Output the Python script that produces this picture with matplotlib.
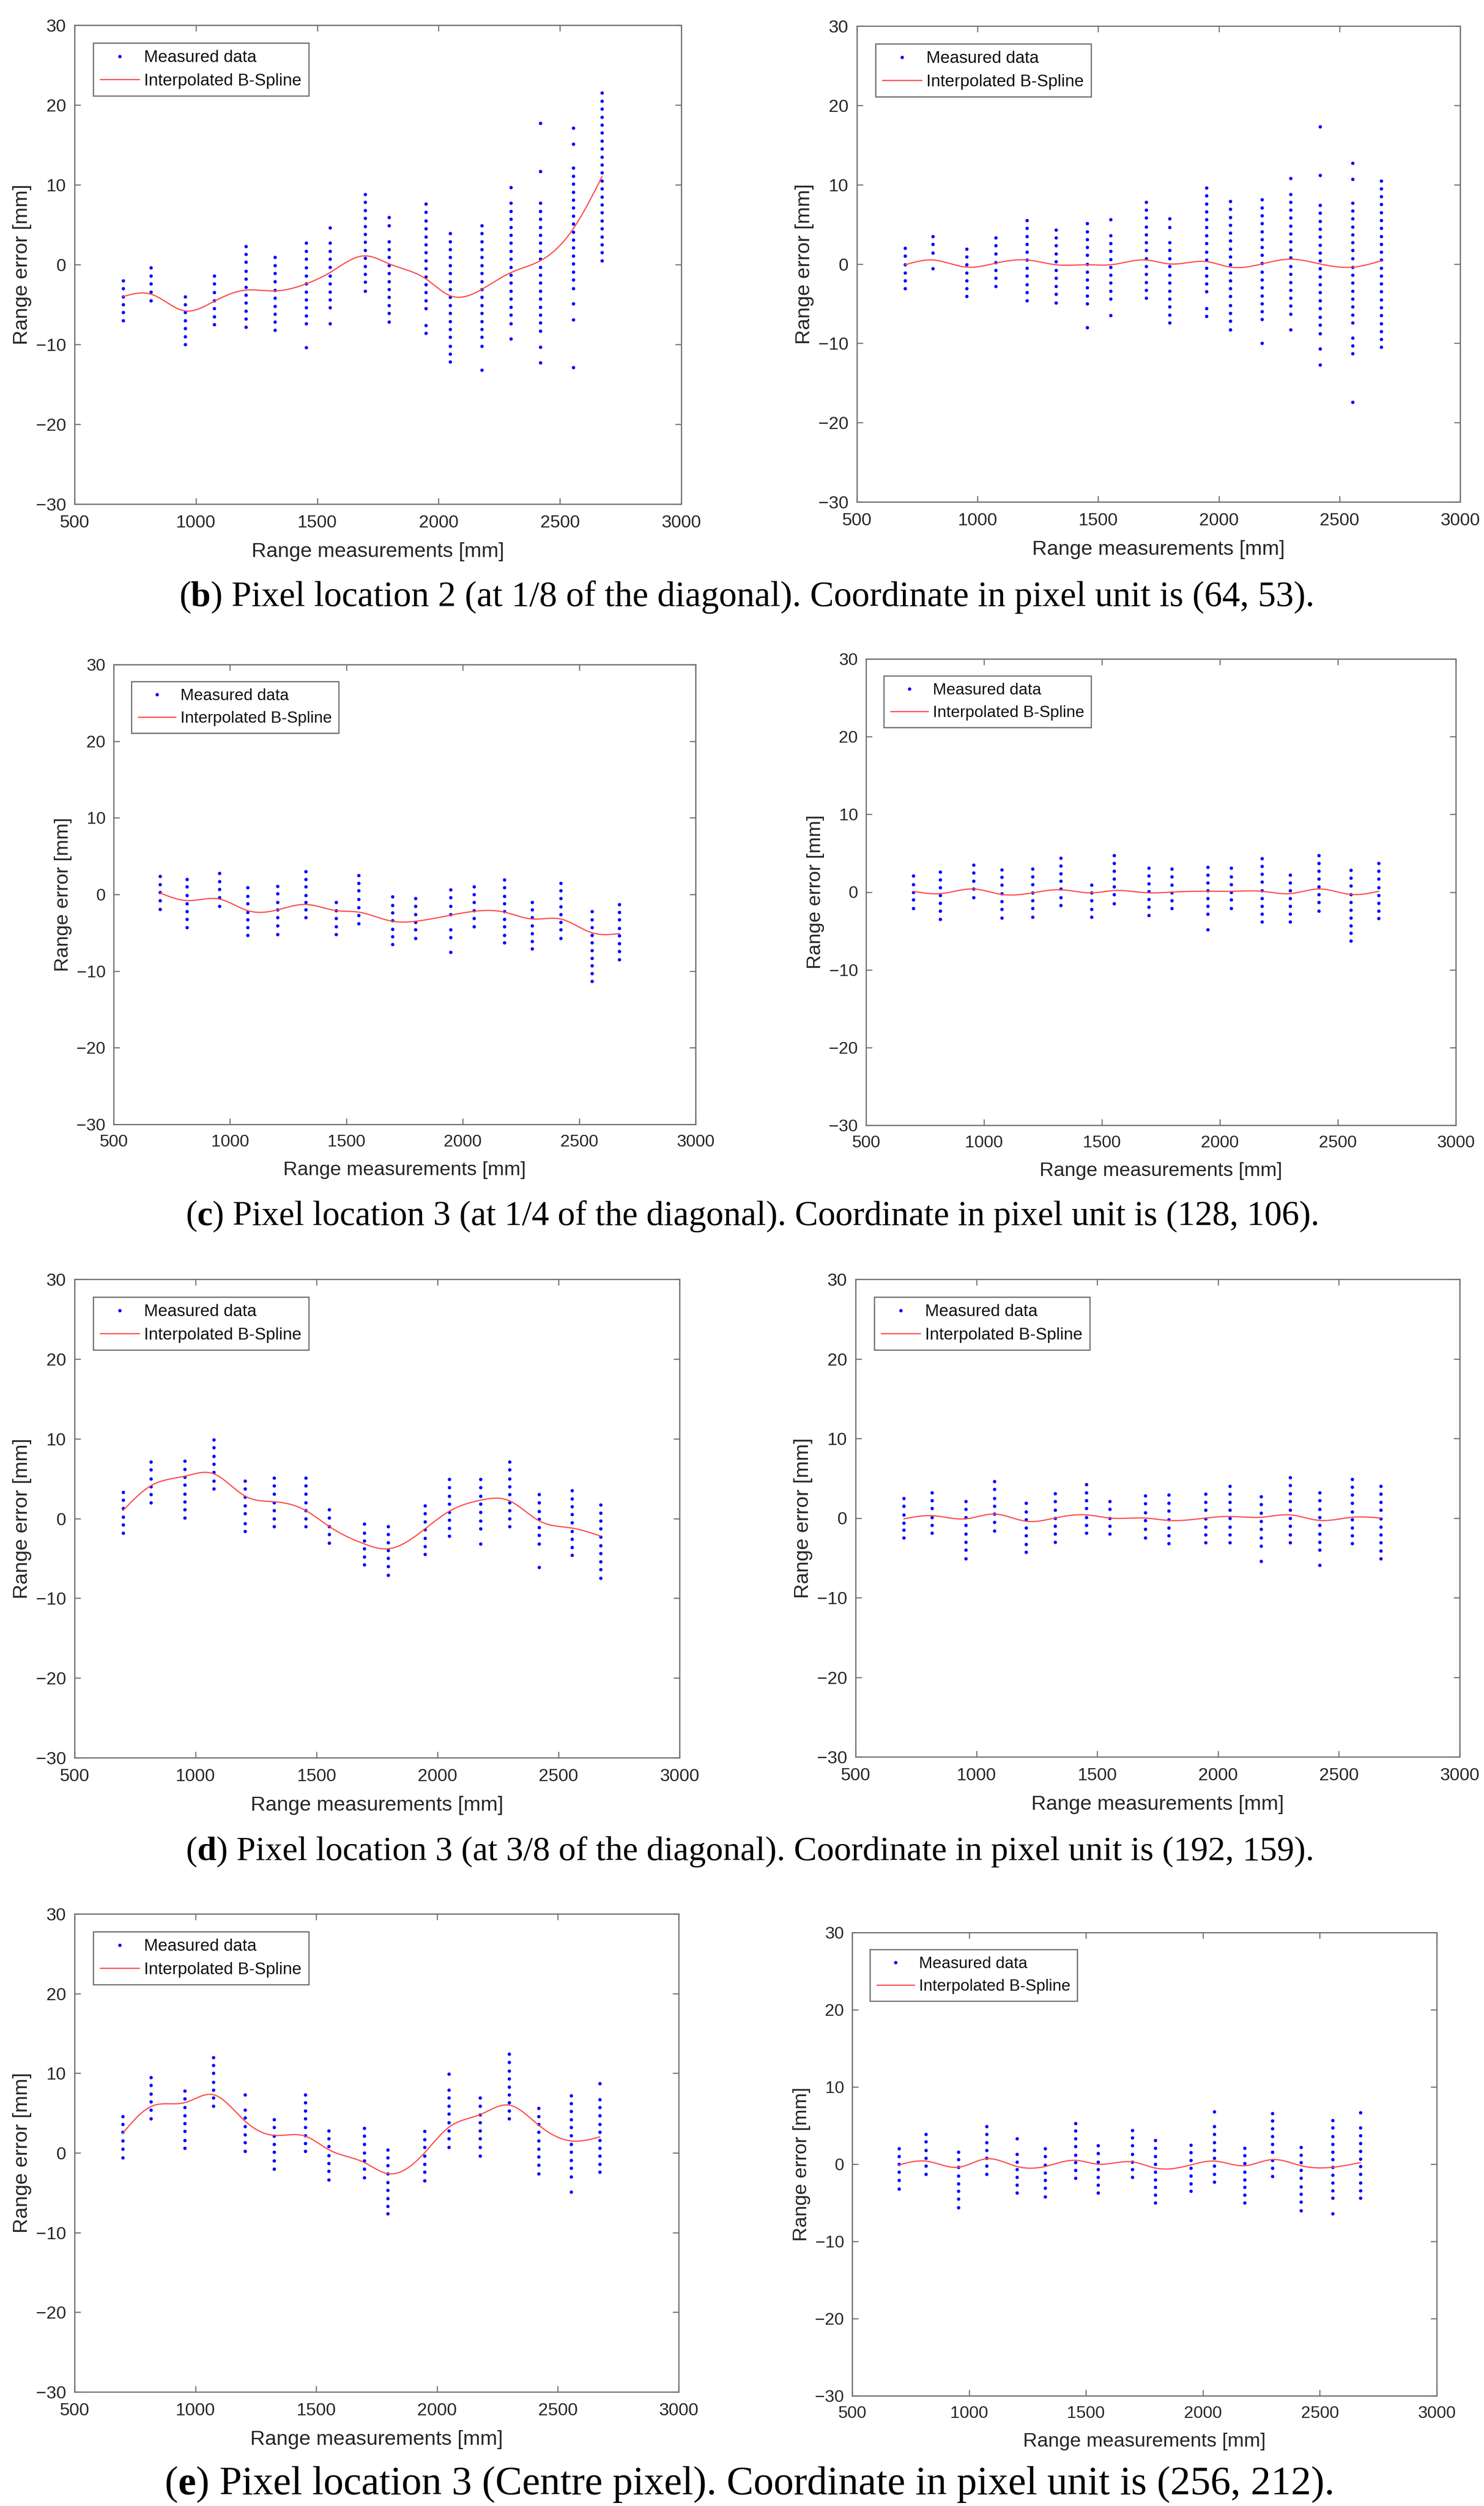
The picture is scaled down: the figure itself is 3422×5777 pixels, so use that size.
import numpy as np
import matplotlib
matplotlib.use("Agg")
import matplotlib.pyplot as plt

# ---------------- data ----------------
RANGE_MM = [700, 815, 955, 1075, 1205, 1325, 1455, 1552, 1698, 1796, 1948, 2048, 2178, 2298, 2420, 2555, 2673]

B_LEFT_ERR = [
    [-2, -3, -4, -5, -6, -7],
    [-0.4, -1.4, -2.4, -3.4, -4.5],
    [-4, -5, -6, -7, -8, -9, -10],
    [-1.4, -2.4, -3.5, -4.5, -5.5, -6.5, -7.5],
    [2.3, 1.3, 0.3, -0.8, -1.8, -2.8, -3.8, -4.8, -5.8, -6.8, -7.8],
    [0.9, -0.1, -1.1, -2.1, -3.2, -4.2, -5.2, -6.2, -7.2, -8.2],
    [2.7, 1.7, 0.7, -0.4, -1.4, -2.4, -3.4, -4.4, -5.4, -6.4, -7.4, -10.4],
    [4.6, 2.7, 1.7, 0.7, -0.3, -1.4, -2.4, -3.4, -4.4, -5.4, -7.4],
    [8.8, 7.8, 6.8, 5.8, 4.8, 3.8, 2.8, 1.8, 0.8, -0.2, -1.2, -2.2, -3.3],
    [5.9, 4.9, 2.9, 1.9, 0.9, -0.1, -1.1, -2.1, -3.1, -4.1, -5.1, -6.1, -7.2],
    [7.6, 6.6, 5.5, 4.5, 3.5, 2.5, 1.5, 0.5, -0.5, -1.5, -2.5, -3.5, -4.5, -5.5, -7.6, -8.6],
    [3.9, 2.9, 1.9, 0.9, -0.1, -1.1, -2.1, -3.1, -4.1, -5.1, -6.1, -7.1, -8.1, -9.1, -10.2, -11.2, -12.2],
    [4.9, 3.9, 2.9, 1.9, 0.9, -0.1, -1.1, -2.1, -3.1, -4.1, -5.1, -6.1, -7.1, -8.1, -9.1, -10.2, -13.2],
    [9.7, 7.7, 6.7, 5.7, 4.7, 3.7, 2.7, 1.7, 0.7, -0.3, -1.3, -2.3, -3.3, -4.3, -5.3, -6.3, -7.4, -9.3],
    [17.7, 11.7, 7.7, 6.7, 5.7, 4.7, 3.7, 2.7, 1.7, 0.7, -0.3, -1.3, -2.3, -3.3, -4.3, -5.3, -6.3, -7.3, -8.3, -10.3, -12.3],
    [17.1, 15.1, 12.1, 11.1, 10.1, 9.1, 8.1, 7.1, 6.1, 5.1, 4.1, 3.1, 2.1, 1.1, 0.1, -0.9, -1.9, -3.0, -4.9, -6.9, -12.9],
    [21.5, 20.5, 19.5, 18.5, 17.5, 16.5, 15.5, 14.5, 13.5, 12.5, 11.5, 10.5, 9.5, 8.5, 7.5, 6.5, 5.5, 4.5, 3.5, 2.5, 1.5, 0.5],
]
B_LEFT_SPLINE = [-4.0, -3.7, -5.8, -4.6, -3.2, -3.3, -2.4, -1.0, 1.1, 0.1, -1.8, -3.9, -3.1, -1.0, 0.5, 4.5, 11.0]

B_RIGHT_ERR = [
    [2.0, 1.0, -0.1, -1.1, -2.1, -3.1],
    [3.5, 2.5, 1.4, -0.6],
    [1.9, 0.9, -0.1, -1.1, -2.1, -3.1, -4.1],
    [3.3, 2.3, 1.3, 0.2, -0.8, -1.8, -2.8],
    [5.5, 4.5, 3.5, 2.5, 1.5, 0.5, -0.5, -1.5, -2.6, -3.6, -4.6],
    [4.3, 3.3, 2.3, 1.3, 0.3, -0.8, -1.8, -2.8, -3.8, -4.9],
    [5.1, 4.1, 3.1, 2.1, 1.1, 0.0, -1.0, -2.0, -3.0, -4.0, -5.0, -8.0],
    [5.6, 3.6, 2.6, 1.6, 0.6, -0.4, -1.4, -2.4, -3.4, -4.4, -6.5],
    [7.8, 6.8, 5.8, 4.7, 3.7, 2.7, 1.7, 0.7, -0.3, -1.3, -2.3, -3.3, -4.3],
    [5.7, 4.6, 2.7, 1.7, 0.7, -0.3, -1.4, -2.4, -3.4, -4.4, -5.4, -6.4, -7.4],
    [9.6, 8.6, 7.6, 6.6, 5.6, 4.6, 3.6, 2.6, 1.5, 0.5, -0.5, -1.5, -2.5, -3.5, -5.6, -6.6],
    [7.9, 6.9, 5.9, 4.9, 3.9, 2.9, 1.9, 0.9, -0.1, -1.1, -2.1, -3.1, -4.1, -5.2, -6.2, -7.2, -8.3],
    [8.1, 7.1, 6.1, 5.1, 4.1, 3.1, 2.1, 1.1, 0.1, -1.0, -2.0, -3.0, -4.0, -5.0, -6.0, -7.0, -10.0],
    [10.8, 8.8, 7.8, 6.8, 5.8, 4.8, 3.8, 2.8, 1.8, 0.8, -0.3, -1.3, -2.3, -3.3, -4.3, -5.3, -6.3, -8.3],
    [17.3, 11.2, 7.4, 6.4, 5.4, 4.4, 3.4, 2.4, 1.4, 0.4, -0.6, -1.6, -2.6, -3.6, -4.6, -5.6, -6.7, -7.7, -8.8, -10.7, -12.7],
    [12.7, 10.7, 7.7, 6.7, 5.7, 4.7, 3.7, 2.7, 1.7, 0.7, -0.4, -1.4, -2.4, -3.4, -4.4, -5.4, -6.4, -7.4, -9.3, -10.3, -11.3, -17.4],
    [10.5, 9.5, 8.5, 7.5, 6.5, 5.5, 4.5, 3.5, 2.5, 1.5, 0.5, -0.5, -1.5, -2.5, -3.5, -4.5, -5.5, -6.5, -7.5, -8.5, -9.5, -10.5],
]
B_RIGHT_SPLINE = [-0.1, 0.5, -0.4, 0.1, 0.5, -0.1, -0.1, -0.1, 0.5, 0.0, 0.3, -0.4, 0.0, 0.6, 0.0, -0.4, 0.4]

C_LEFT_ERR = [
    [2.4, 1.3, 0.3, -0.8, -1.9],
    [2.0, 1.0, -0.1, -1.2, -2.2, -3.2, -4.3],
    [2.8, 1.7, 0.7, -0.4, -1.5],
    [0.9, -0.2, -1.2, -2.3, -3.3, -4.3, -5.3],
    [1.1, 0.1, -1.0, -2.0, -3.0, -4.1, -5.2],
    [3.0, 2.0, 1.0, -0.1, -1.0, -2.0, -3.0],
    [-1.0, -2.1, -3.1, -4.2, -5.2],
    [2.5, 1.5, 0.5, -0.6, -1.7, -2.7, -3.8],
    [-0.3, -1.4, -2.4, -3.4, -4.5, -5.5, -6.5],
    [-0.5, -1.5, -2.6, -3.6, -4.6, -5.7],
    [0.6, -0.4, -1.5, -2.6, -4.6, -5.6, -7.5],
    [1.0, 0.0, -1.0, -2.1, -3.1, -4.2],
    [1.9, 0.9, -0.2, -1.2, -2.2, -3.2, -4.2, -5.3, -6.3],
    [-1.0, -2.0, -3.0, -4.1, -5.1, -6.1, -7.1],
    [1.5, 0.5, -0.5, -1.6, -2.6, -3.6, -4.6, -5.7],
    [-2.2, -3.3, -4.3, -5.3, -6.3, -7.3, -8.3, -9.3, -10.3, -11.3],
    [-1.3, -2.3, -3.3, -4.4, -5.4, -6.4, -7.4, -8.5],
]
C_LEFT_SPLINE = [0.2, -0.8, -0.6, -2.1, -2.0, -1.3, -2.1, -2.3, -3.5, -3.5, -2.7, -2.2, -2.3, -3.2, -3.2, -5.0, -5.1]

C_RIGHT_ERR = [
    [2.1, 1.0, 0.0, -1.0, -2.1],
    [2.6, 1.6, 0.6, -0.4, -1.4, -2.4, -3.5],
    [3.5, 2.5, 1.4, 0.4, -0.7],
    [2.9, 1.9, 0.9, -0.2, -1.2, -2.2, -3.3],
    [3.0, 2.0, 1.0, -0.1, -1.1, -2.1, -3.2],
    [4.4, 3.4, 2.4, 1.4, 0.4, -0.7, -1.7],
    [0.9, -0.1, -1.1, -2.2, -3.2],
    [4.7, 3.7, 2.7, 1.7, 0.7, -0.3, -1.5],
    [3.1, 2.1, 1.1, 0.1, -0.9, -1.9, -3.0],
    [3.0, 2.0, 0.9, -0.1, -1.1, -2.1],
    [3.2, 2.2, 1.2, 0.2, -0.8, -1.8, -2.8, -4.8],
    [3.1, 2.0, 1.0, 0.0, -1.0, -2.1],
    [4.3, 3.3, 2.3, 1.3, 0.2, -0.8, -1.8, -2.8, -3.8],
    [2.2, 1.2, 0.2, -0.8, -1.8, -2.8, -3.8],
    [4.7, 3.7, 2.7, 1.7, 0.7, -0.3, -1.3, -2.4],
    [2.8, 1.8, 0.8, -0.3, -1.3, -2.3, -3.3, -4.3, -5.3, -6.3],
    [3.7, 2.7, 1.7, 0.6, -0.4, -1.4, -2.4, -3.4],
]
C_RIGHT_SPLINE = [0.1, -0.2, 0.4, -0.3, -0.1, 0.3, -0.1, 0.2, -0.1, 0.0, 0.1, 0.1, 0.1, -0.2, 0.4, -0.3, 0.1]

D_LEFT_ERR = [
    [3.3, 2.3, 1.3, 0.2, -0.8, -1.8],
    [7.1, 6.1, 5.0, 4.0, 3.0, 2.0],
    [7.2, 6.2, 5.2, 4.2, 3.1, 2.1, 1.1, 0.1],
    [9.9, 8.9, 7.8, 6.8, 5.8, 4.7, 3.7],
    [4.7, 3.7, 2.7, 1.6, 0.6, -0.6, -1.6],
    [5.1, 4.1, 3.1, 2.0, 1.0, 0.0, -1.0],
    [5.1, 4.1, 3.1, 2.0, 1.0, 0.0, -1.0],
    [1.1, 0.1, -1.0, -2.0, -3.1],
    [-0.7, -1.8, -2.8, -3.8, -4.8, -5.8],
    [-1.0, -2.0, -3.0, -4.0, -5.0, -6.0, -7.1],
    [1.6, 0.6, -0.4, -1.4, -2.5, -3.5, -4.5],
    [4.9, 3.9, 2.8, 1.8, 0.8, -0.2, -1.2, -2.2],
    [4.9, 3.9, 2.8, 1.8, 0.8, -0.3, -1.3, -3.2],
    [7.1, 6.1, 5.0, 4.0, 3.0, 2.0, 1.0, 0.0, -1.0],
    [3.0, 2.0, 0.9, -0.1, -1.1, -2.1, -3.2, -6.1],
    [3.5, 2.5, 1.5, 0.5, -0.5, -1.6, -2.6, -3.6, -4.6],
    [1.7, 0.7, -0.3, -1.3, -2.3, -3.4, -4.4, -5.4, -6.4, -7.5],
]
D_LEFT_SPLINE = [1.0, 4.1, 5.3, 5.6, 2.8, 2.1, 1.0, -1.0, -3.2, -3.8, -1.3, 0.9, 2.3, 2.2, -0.3, -1.2, -2.2]

D_RIGHT_ERR = [
    [2.5, 1.5, 0.4, -0.6, -1.5, -2.5],
    [3.2, 2.2, 1.2, 0.1, -0.9, -1.9],
    [2.1, 1.1, 0.1, -0.9, -2.0, -3.0, -4.0, -5.1],
    [4.6, 3.6, 2.5, 1.5, 0.5, -0.5, -1.6],
    [1.9, 0.8, -0.2, -1.2, -2.2, -3.3, -4.3],
    [3.1, 2.1, 1.0, 0.0, -1.0, -2.0, -3.0],
    [4.2, 3.2, 2.2, 1.2, 0.1, -0.9, -1.9],
    [2.1, 1.1, 0.0, -1.0, -2.0],
    [2.8, 1.8, 0.7, -0.3, -1.4, -2.5],
    [2.9, 1.9, 0.9, -0.2, -1.2, -2.2, -3.2],
    [3.0, 2.0, 1.0, -0.1, -1.1, -2.1, -3.1],
    [4.0, 3.0, 2.0, 1.0, 0.0, -1.1, -2.1, -3.1],
    [2.7, 1.7, 0.6, -0.4, -1.4, -2.5, -3.5, -5.4],
    [5.1, 4.1, 3.1, 2.1, 1.0, 0.0, -1.0, -2.1, -3.1],
    [3.2, 2.2, 1.1, 0.1, -0.9, -2.0, -3.0, -4.0, -5.9],
    [4.9, 3.9, 2.9, 1.9, 0.8, -0.2, -1.2, -2.2, -3.2],
    [4.0, 3.0, 2.0, 1.0, -0.1, -1.1, -2.1, -3.1, -4.1, -5.1],
]
D_RIGHT_SPLINE = [-0.1, 0.3, -0.1, 0.5, -0.4, 0.0, 0.4, 0.0, 0.0, -0.3, 0.0, 0.2, 0.1, 0.4, -0.3, 0.1, 0.0]

E_LEFT_ERR = [
    [4.6, 3.6, 2.6, 1.5, 0.5, -0.6],
    [9.5, 8.5, 7.4, 6.4, 5.4, 4.3],
    [7.8, 6.8, 5.7, 4.7, 3.7, 2.7, 1.6, 0.6],
    [12.0, 11.0, 10.0, 8.9, 7.9, 6.9, 5.9],
    [7.3, 5.4, 4.4, 3.3, 2.3, 1.3, 0.2],
    [4.2, 3.2, 2.1, 1.1, 0.1, -1.0, -2.0],
    [7.3, 6.3, 5.3, 4.3, 3.2, 2.2, 1.2, 0.2],
    [2.8, 1.8, 0.8, -0.3, -1.3, -2.3, -3.4],
    [3.1, 2.1, 1.1, 0.0, -1.0, -2.0, -3.1],
    [0.4, -0.6, -1.6, -2.6, -3.7, -4.7, -5.7, -6.7, -7.6],
    [2.7, 1.7, 0.7, -0.4, -1.4, -2.4, -3.5],
    [9.9, 7.9, 6.9, 5.9, 4.9, 3.8, 2.8, 1.8, 0.7],
    [6.9, 5.9, 4.8, 3.8, 2.8, 1.8, 0.7, -0.4],
    [12.4, 11.4, 10.3, 9.3, 8.3, 7.3, 6.3, 5.3, 4.3],
    [5.6, 4.6, 3.6, 2.6, 1.5, 0.5, -0.5, -1.5, -2.6],
    [7.2, 6.2, 5.2, 4.2, 3.2, 2.2, 1.1, 0.1, -0.9, -1.9, -3.0, -4.9],
    [8.7, 6.7, 5.7, 4.7, 3.6, 2.6, 1.6, 0.6, -0.4, -1.4, -2.4],
]
E_LEFT_SPLINE = [2.5, 5.8, 6.3, 7.3, 4.0, 2.2, 2.1, 0.4, -1.2, -2.6, 0.0, 3.2, 4.8, 6.0, 3.5, 1.5, 2.0]

E_RIGHT_ERR = [
    [2.0, 1.0, 0.0, -1.0, -2.1, -3.2],
    [3.9, 2.9, 1.8, 0.8, -0.2, -1.3],
    [1.6, 0.6, -0.4, -1.5, -2.5, -3.5, -4.5, -5.6],
    [4.9, 3.9, 2.8, 1.8, 0.8, -0.2, -1.3],
    [3.3, 1.3, 0.3, -0.7, -1.7, -2.7, -3.7],
    [2.0, 1.0, -0.1, -1.1, -2.1, -3.1, -4.2],
    [5.3, 4.3, 3.3, 2.3, 1.2, 0.2, -0.8, -1.8],
    [2.4, 1.4, 0.3, -0.7, -1.7, -2.7, -3.7],
    [4.4, 3.4, 2.4, 1.3, 0.3, -0.7, -1.7],
    [3.1, 2.1, 1.0, 0.0, -1.0, -2.0, -3.0, -4.0, -5.0],
    [2.5, 1.5, 0.5, -0.5, -1.5, -2.5, -3.5],
    [6.8, 4.9, 3.9, 2.8, 1.8, 0.8, -0.2, -1.3, -2.3],
    [2.1, 1.1, 0.1, -1.0, -2.0, -3.0, -4.0, -5.0],
    [6.6, 5.6, 4.6, 3.6, 2.6, 1.6, 0.5, -0.5, -1.6],
    [2.2, 1.2, 0.2, -0.8, -1.8, -2.9, -3.9, -4.9, -6.0],
    [5.7, 4.7, 3.6, 2.6, 1.6, 0.6, -0.4, -1.4, -2.4, -3.4, -4.4, -6.4],
    [6.7, 4.7, 3.7, 2.7, 1.7, 0.7, -0.3, -1.3, -2.4, -3.4, -4.4],
]
E_RIGHT_SPLINE = [-0.1, 0.4, -0.4, 0.7, -0.3, -0.3, 0.5, 0.0, 0.3, -0.5, -0.1, 0.4, -0.2, 0.6, -0.2, -0.4, 0.2]

X_TICKS = [500, 1000, 1500, 2000, 2500, 3000]
Y_TICKS = [-30, -20, -10, 0, 10, 20, 30]
X_LABEL = "Range measurements [mm]"
Y_LABEL = "Range error [mm]"
LEGEND_LABELS = ["Measured data", "Interpolated B-Spline"]

CAPTIONS = [
    ("b", " Pixel location 2 (at 1/8 of the diagonal). Coordinate in pixel unit is (64, 53)."),
    ("c", " Pixel location 3 (at 1/4 of the diagonal). Coordinate in pixel unit is (128, 106)."),
    ("d", " Pixel location 3 (at 3/8 of the diagonal). Coordinate in pixel unit is (192, 159)."),
    ("e", " Pixel location 3 (Centre pixel). Coordinate in pixel unit is (256, 212)."),
]

# ---------------- layout (pixels) ----------------
W, H = 3422, 5777
fig = plt.figure(figsize=(W / 100, H / 100), dpi=100)
fig.patch.set_facecolor("white")

SANS = ["Liberation Sans", "DejaVu Sans"]
SERIF = ["Liberation Serif", "DejaVu Serif"]
SPINE = "#6e6e6e"
TXT = "#262626"

PANELS = [
    # (errors, spline, (l, t, r, b), scale)
    (B_LEFT_ERR, B_LEFT_SPLINE, (172, 58, 1571, 1162), 1.0),
    (B_RIGHT_ERR, B_RIGHT_SPLINE, (1976, 60, 3367, 1157), 1.0),
    (C_LEFT_ERR, C_LEFT_SPLINE, (262, 1532, 1604, 2592), 0.96),
    (C_RIGHT_ERR, C_RIGHT_SPLINE, (1997, 1519, 3357, 2594), 0.96),
    (D_LEFT_ERR, D_LEFT_SPLINE, (172, 2949, 1567, 4052), 1.0),
    (D_RIGHT_ERR, D_RIGHT_SPLINE, (1973, 2949, 3366, 4050), 1.0),
    (E_LEFT_ERR, E_LEFT_SPLINE, (172, 4412, 1565, 5514), 1.0),
    (E_RIGHT_ERR, E_RIGHT_SPLINE, (1965, 4455, 3313, 5523), 0.96),
]

CAPTION_POS = [  # (centre x, baseline y, target width) in pixels
    (1722, 1397, 2618),
    (1737, 2824, 2618),
    (1730, 4288, 2604),
    (1730, 5750, 2700),
]


def natural_cubic(x, y, xs):
    x = np.asarray(x, float)
    y = np.asarray(y, float)
    n = len(x)
    h = np.diff(x)
    A = np.zeros((n, n))
    r = np.zeros(n)
    A[0, 0] = A[-1, -1] = 1.0
    for i in range(1, n - 1):
        A[i, i - 1] = h[i - 1]
        A[i, i] = 2 * (h[i - 1] + h[i])
        A[i, i + 1] = h[i]
        r[i] = 3 * ((y[i + 1] - y[i]) / h[i] - (y[i] - y[i - 1]) / h[i - 1])
    c = np.linalg.solve(A, r)
    b = np.diff(y) / h - h * (2 * c[:-1] + c[1:]) / 3
    d = (c[1:] - c[:-1]) / (3 * h)
    idx = np.clip(np.searchsorted(x, xs) - 1, 0, n - 2)
    dx = xs - x[idx]
    return y[idx] + b[idx] * dx + c[idx] * dx ** 2 + d[idx] * dx ** 3


def px2fig_x(px):
    return px / W


def px2fig_y(py):
    return 1 - py / H


for errs, spl, (l, t, r, b), s in PANELS:
    ax = fig.add_axes([l / W, 1 - b / H, (r - l) / W, (b - t) / H])
    xs, ys = [], []
    for xm, col in zip(RANGE_MM, errs):
        xs += [xm] * len(col)
        ys += list(col)
    ax.plot(xs, ys, linestyle="none", marker="o", markersize=5.6,
            markerfacecolor="#0000ff", markeredgewidth=0, color="#0000ff",
            label=LEGEND_LABELS[0], zorder=3)
    xd = np.linspace(RANGE_MM[0], RANGE_MM[-1], 600)
    ax.plot(xd, natural_cubic(RANGE_MM, spl, xd), color="#ff4d4d", lw=2.0,
            label=LEGEND_LABELS[1], zorder=4)
    ax.set_xlim(500, 3000)
    ax.set_ylim(-30, 30)
    ax.set_xticks(X_TICKS)
    ax.set_yticks(Y_TICKS)
    ax.tick_params(direction="in", length=10, width=1.8, color=SPINE,
                   top=True, right=True, labelsize=29.5 * s, labelcolor=TXT)
    ax.tick_params(axis="x", pad=17 * s)
    ax.tick_params(axis="y", pad=14 * s)
    for lab in ax.get_xticklabels() + ax.get_yticklabels():
        lab.set_fontfamily(SANS)
    for sp in ax.spines.values():
        sp.set_color(SPINE)
        sp.set_linewidth(2.0)
    # axis labels
    fig.text(px2fig_x((l + r) / 2), px2fig_y(b + 110 * s), X_LABEL,
             ha="center", va="center", fontsize=34 * s, family=SANS, color=TXT)
    fig.text(px2fig_x(l - 121 * s), px2fig_y((t + b) / 2), Y_LABEL,
             ha="center", va="center", rotation=90, fontsize=34 * s, family=SANS, color=TXT)
    # legend
    off_x = 43 * s / (r - l)
    off_y = 41 * s / (b - t)
    leg = ax.legend(loc="upper left", bbox_to_anchor=(off_x, 1 - off_y),
                    borderaxespad=0, prop={"family": SANS, "size": 28 * s},
                    handlelength=2.3, handletextpad=0.3, borderpad=0.42,
                    labelspacing=0.45, fancybox=False, framealpha=1,
                    edgecolor=SPINE)
    leg.get_frame().set_linewidth(2.0)
    for txt in leg.get_texts():
        txt.set_color("#111111")

# captions with bold letter
renderer = fig.canvas.get_renderer()
for (letter, rest), (cx, by, tw) in zip(CAPTIONS, CAPTION_POS):
    parts = [("(", "normal"), (letter, "bold"), (")" + rest, "normal")]
    fs0 = 50.0
    widths = []
    for s_, w_ in parts:
        tt = fig.text(0, 0, s_, fontsize=fs0, fontweight=w_, family=SERIF)
        widths.append(tt.get_window_extent(renderer).width)
        tt.remove()
    fs = fs0 * tw / sum(widths)
    widths = [w * fs / fs0 for w in widths]
    x0 = cx - tw / 2
    for (s_, w_), wd in zip(parts, widths):
        fig.text(px2fig_x(x0), px2fig_y(by), s_, fontsize=fs, fontweight=w_,
                 family=SERIF, ha="left", va="baseline", color="#000000")
        x0 += wd

fig.savefig("out.png", dpi=100, facecolor="white")
